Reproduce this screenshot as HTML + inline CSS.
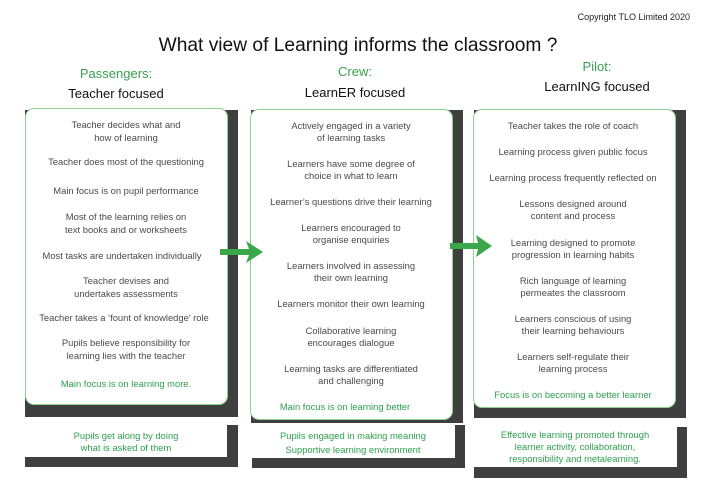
<!DOCTYPE html>
<html><head><meta charset="utf-8"><style>
body{margin:0;width:717px;height:494px;background:#fff;position:relative;overflow:hidden;font-family:"Liberation Sans",Arial,sans-serif}
.a{position:absolute}
.dk{position:absolute;background:#3f3f3f}
.wb{position:absolute;background:#fff;border:1px solid #8fcf8f;border-radius:9px;box-sizing:border-box}
.wr{position:absolute;background:#fff}
.t{position:absolute;font-size:9.4px;line-height:12px;color:#4a4a4a;text-align:center;white-space:nowrap;transform:translateX(-50%)}
.g{color:#2ea04f}
.h{position:absolute;text-align:center;white-space:nowrap;transform:translateX(-50%)}
</style></head><body>
<div class="a" style="right:27px;top:12px;font-size:9px;color:#222">Copyright TLO Limited 2020</div>
<div class="h" style="left:358px;top:35px;font-size:19.2px;color:#111">What view of Learning informs the classroom ?</div>
<div class="h" style="left:116px;top:66px;font-size:13px;color:#3aa050">Passengers:</div>
<div class="h" style="left:116px;top:86px;font-size:13px;color:#111">Teacher focused</div>
<div class="h" style="left:355px;top:64px;font-size:13px;color:#3aa050">Crew:</div>
<div class="h" style="left:355px;top:85px;font-size:13px;color:#111">LearnER focused</div>
<div class="h" style="left:597px;top:59px;font-size:13px;color:#3aa050">Pilot:</div>
<div class="h" style="left:597px;top:79px;font-size:13px;color:#111">LearnING focused</div>

<div class="dk" style="left:25px;top:110px;width:213px;height:307px"></div>
<div class="wb" style="left:25px;top:108px;width:203px;height:297px"></div>
<div class="dk" style="left:25px;top:425px;width:213px;height:42px"></div>
<div class="wr" style="left:25px;top:425px;width:202px;height:32px"></div>
<div class="dk" style="left:251px;top:110px;width:212px;height:313px"></div>
<div class="wb" style="left:250px;top:109px;width:203px;height:311px"></div>
<div class="dk" style="left:252px;top:425px;width:213px;height:43px"></div>
<div class="wr" style="left:250px;top:425px;width:205px;height:33px"></div>
<div class="dk" style="left:474px;top:110px;width:212px;height:308px"></div>
<div class="wb" style="left:473px;top:109px;width:203px;height:299px"></div>
<div class="dk" style="left:474px;top:427px;width:213px;height:51px"></div>
<div class="wr" style="left:473px;top:427px;width:204px;height:40px"></div>

<svg class="a" style="left:0;top:0" width="717" height="494">
<polygon points="220,249 249,249 246,241 263,252 246,263 249,255 220,255" fill="#3aa84a"/>
<polygon points="450,243 478,243 476,235 492,246 476,257 478,249 450,249" fill="#3aa84a"/>
</svg>

<div class="t" style="left:126px;top:119px">Teacher decides what and</div>
<div class="t" style="left:126px;top:132px">how of learning</div>
<div class="t" style="left:126px;top:156px">Teacher does most of the questioning</div>
<div class="t" style="left:126px;top:185px">Main focus is on pupil performance</div>
<div class="t" style="left:126px;top:211px">Most of the learning relies on</div>
<div class="t" style="left:126px;top:224px">text books and or worksheets</div>
<div class="t" style="left:122px;top:250px">Most tasks are undertaken individually</div>
<div class="t" style="left:126px;top:275px">Teacher devises and</div>
<div class="t" style="left:126px;top:288px">undertakes assessments</div>
<div class="t" style="left:124px;top:312px">Teacher takes a ‘fount of knowledge’ role</div>
<div class="t" style="left:126px;top:337px">Pupils believe responsibility for</div>
<div class="t" style="left:126px;top:350px">learning lies with the teacher</div>
<div class="t g" style="left:126px;top:378px">Main focus is on learning more.</div>
<div class="t g" style="left:126px;top:430px">Pupils get along by doing</div>
<div class="t g" style="left:126px;top:442px">what is asked of them</div>

<div class="t" style="left:351px;top:120px">Actively engaged in a variety</div>
<div class="t" style="left:351px;top:132px">of learning tasks</div>
<div class="t" style="left:351px;top:158px">Learners have some degree of</div>
<div class="t" style="left:351px;top:170px">choice in what to learn</div>
<div class="t" style="left:351px;top:196px">Learner’s questions drive their learning</div>
<div class="t" style="left:351px;top:222px">Learners encouraged to</div>
<div class="t" style="left:351px;top:234px">organise enquiries</div>
<div class="t" style="left:351px;top:260px">Learners involved in assessing</div>
<div class="t" style="left:351px;top:272px">their own learning</div>
<div class="t" style="left:351px;top:298px">Learners monitor their own learning</div>
<div class="t" style="left:351px;top:325px">Collaborative learning</div>
<div class="t" style="left:351px;top:337px">encourages dialogue</div>
<div class="t" style="left:351px;top:363px">Learning tasks are differentiated</div>
<div class="t" style="left:351px;top:375px">and challenging</div>
<div class="t g" style="left:345px;top:401px">Main focus is on learning better</div>
<div class="t g" style="left:353px;top:430px">Pupils engaged in making meaning</div>
<div class="t g" style="left:353px;top:444px">Supportive learning environment</div>

<div class="t" style="left:573px;top:120px">Teacher takes the role of coach</div>
<div class="t" style="left:573px;top:146px">Learning process given public focus</div>
<div class="t" style="left:573px;top:172px">Learning process frequently reflected on</div>
<div class="t" style="left:573px;top:198px">Lessons designed around</div>
<div class="t" style="left:573px;top:210px">content and process</div>
<div class="t" style="left:573px;top:237px">Learning designed to promote</div>
<div class="t" style="left:573px;top:249px">progression in learning habits</div>
<div class="t" style="left:573px;top:275px">Rich language of learning</div>
<div class="t" style="left:573px;top:287px">permeates the classroom</div>
<div class="t" style="left:573px;top:313px">Learners conscious of using</div>
<div class="t" style="left:573px;top:325px">their learning behaviours</div>
<div class="t" style="left:573px;top:351px">Learners self-regulate their</div>
<div class="t" style="left:573px;top:363px">learning process</div>
<div class="t g" style="left:573px;top:389px">Focus is on becoming a better learner</div>
<div class="t g" style="left:575px;top:429px">Effective learning promoted through</div>
<div class="t g" style="left:575px;top:441px">learner activity, collaboration,</div>
<div class="t g" style="left:575px;top:453px">responsibility and metalearning.</div>
</body></html>
